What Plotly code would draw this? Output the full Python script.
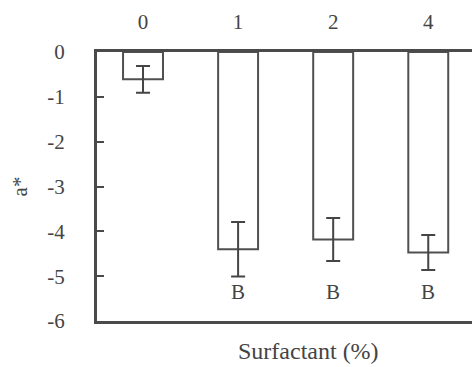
import plotly.graph_objects as go

categories = ["0", "1", "2", "4"]
values = [-0.61, -4.40, -4.18, -4.47]
errors = [0.30, 0.61, 0.48, 0.39]
letters = ["", "B", "B", "B"]
letter_y = -5.35
y_ticks = [0, -1, -2, -3, -4, -5, -6]

FONT = "Liberation Serif"
INK = "#444444"

fig = go.Figure()
fig.add_trace(go.Bar(
    x=categories, y=values, width=0.42,
    marker=dict(color="white", line=dict(color="#505050", width=2)),
    error_y=dict(type="data", array=errors, visible=True,
                 color="#454545", thickness=2, width=7),
))

for i, t in enumerate(letters):
    if t:
        fig.add_annotation(x=i, y=letter_y, text=t, showarrow=False,
                           font=dict(family=FONT, size=21, color=INK))

fig.update_layout(
    width=472, height=367,
    margin=dict(l=97, r=0, t=52, b=46),
    paper_bgcolor="white", plot_bgcolor="white",
    showlegend=False,
    font=dict(family=FONT, size=21, color=INK),
)
fig.update_xaxes(
    type="category", side="top", range=[-0.484, 3.46],
    showline=True, linecolor="#4a4a4a", linewidth=3, mirror=True,
    showgrid=False, ticks="", ticklabelstandoff=12,
    tickfont=dict(family=FONT, size=21, color=INK),
    title=None,
)
fig.add_annotation(xref="paper", yref="paper", x=0.564, y=-0.11,
                   text="Surfactant (%)", showarrow=False, yanchor="middle",
                   borderpad=0,
                   font=dict(family=FONT, size=24, color=INK))
fig.update_yaxes(
    range=[-6, 0], tickvals=y_ticks, ticktext=[str(v) for v in y_ticks],
    showline=True, linecolor="#4a4a4a", linewidth=3, mirror=False,
    showgrid=False, zeroline=False, ticks="inside", ticklen=7, tickwidth=2,
    tickcolor="#4a4a4a", ticklabelstandoff=25,
    tickfont=dict(family=FONT, size=21, color=INK),
    title=dict(text="a*", font=dict(family=FONT, size=21, color=INK), standoff=14),
)

fig.write_html("out.html")
